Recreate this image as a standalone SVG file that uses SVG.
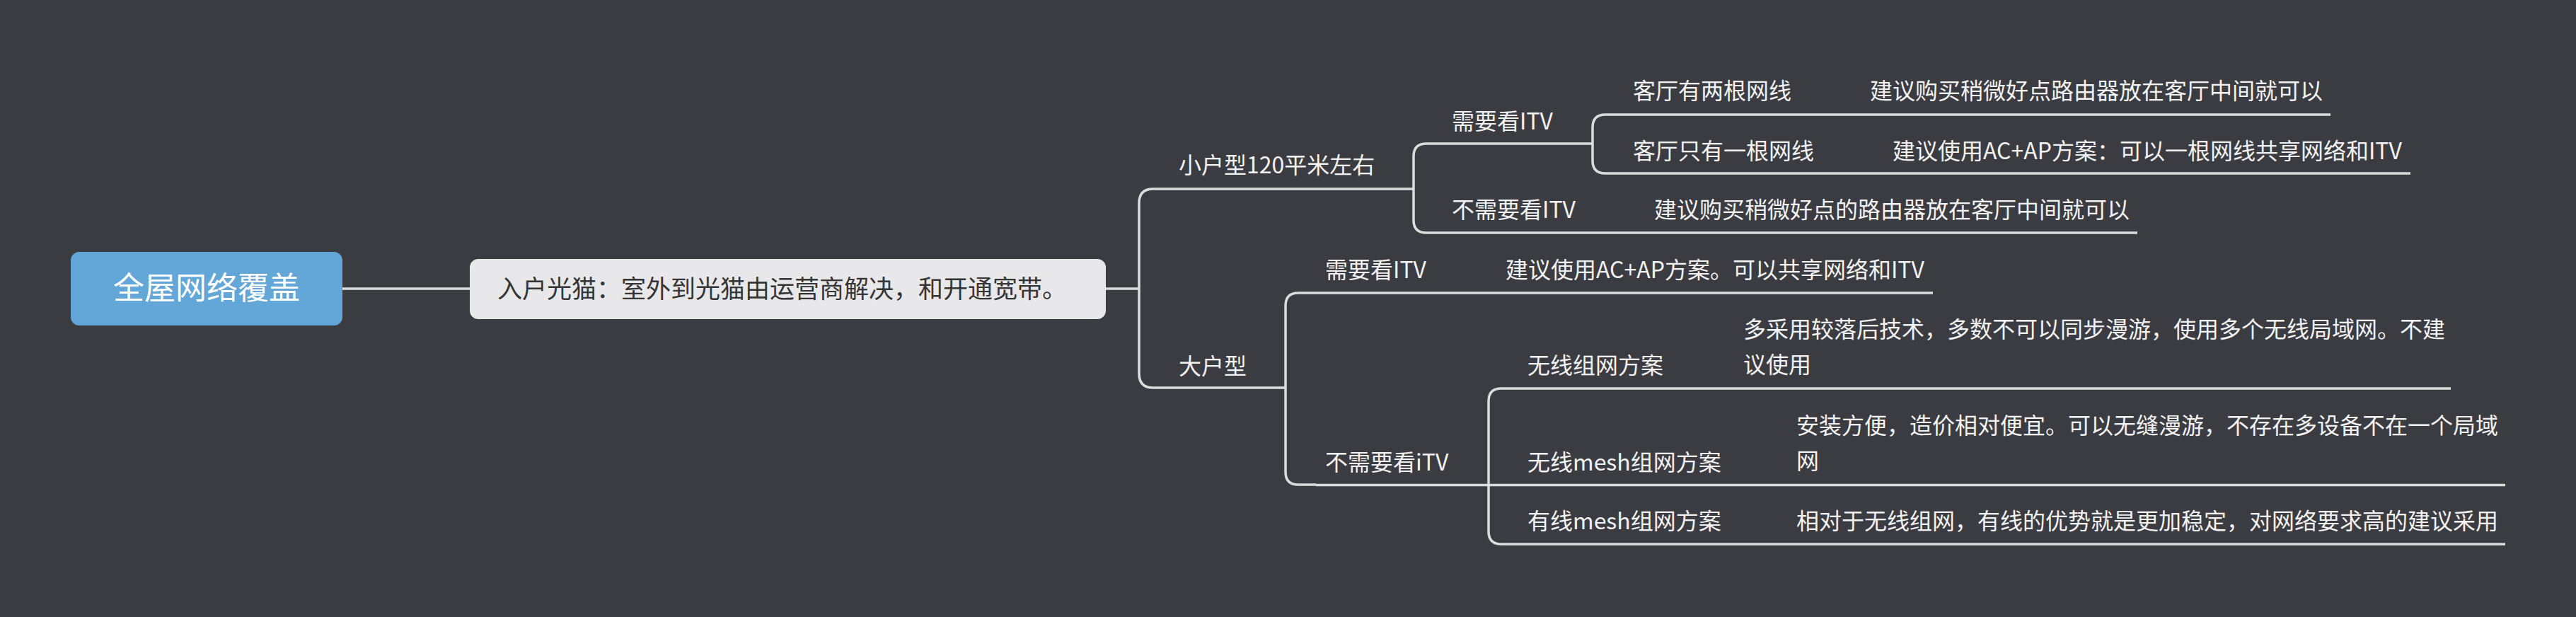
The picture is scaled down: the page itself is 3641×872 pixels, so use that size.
<svg xmlns="http://www.w3.org/2000/svg" width="3641" height="872" viewBox="0 0 3641 872">
<style>
.t{font-family:"Noto Sans CJK SC","Liberation Sans",sans-serif;font-size:32px;fill:#f2f2f2}
.ln{fill:none;stroke:#dcdcdc;stroke-width:3.5}
</style>
<rect width="3641" height="872" fill="#3b3c42"/>
<g id="connectors" class="ln">
<path d="M484 408 H664"/>
<path d="M1563 408 H1610"/>
<path d="M1650 267 H1630 Q1610 267 1610 287 V528 Q1610 548 1630 548 H1650"/>
<path d="M1960 267 H1998"/>
<path d="M2040 203 H2016 Q1998 203 1998 221 V311 Q1998 329 2016 329 H2040"/>
<path d="M2205 203 H2251"/>
<path d="M2295 162 H2269 Q2251 162 2251 180 V227 Q2251 245 2269 245 H2295"/>
<path d="M2542 162 H2634"/>
<path d="M2575 245 H2665"/>
<path d="M2220 329 H2328"/>
<path d="M1785 548 H1817"/>
<path d="M1860 414 H1835 Q1817 414 1817 432 V667 Q1817 685 1835 685 H1860"/>
<path d="M2000 414 H2118"/>
<path d="M2045 685.5 H2146"/>
<path d="M2146 549 H2122 Q2104 549 2104 567 V751 Q2104 769 2122 769 H2146"/>
<path d="M2360 549 H2454"/>
<path d="M2440 685.5 H2529"/>
<path d="M2440 769 H2529"/>
</g>
<g id="root">
<rect x="100" y="356" width="384" height="104" rx="12" fill="#63a7d9"/>
<text x="292" y="423" text-anchor="middle" style="font-family:'Noto Sans CJK SC','Liberation Sans',sans-serif;font-size:44px;fill:#ffffff">全屋网络覆盖</text>
</g>
<g id="n-modem">
<rect x="664" y="366" width="899" height="85" rx="12" fill="#e8e8ea"/>
<text x="703" y="421" style="font-family:'Noto Sans CJK SC','Liberation Sans',sans-serif;font-size:35px;fill:#353535">入户光猫：室外到光猫由运营商解决，和开通宽带。</text>
</g>
<g id="n-small"><path class="ln" d="M1650 267 H1960"/><text class="t" x="1666" y="245">小户型120平米左右</text></g>
<g id="n-small-itv"><path class="ln" d="M2040 203 H2205"/><text class="t" x="2052" y="183">需要看ITV</text></g>
<g id="n-two-cables"><path class="ln" d="M2295 162 H2542"/><text class="t" x="2308" y="140">客厅有两根网线</text></g>
<g id="n-two-cables-tip"><path class="ln" d="M2634 162 H3294"/><text class="t" x="2643" y="140">建议购买稍微好点路由器放在客厅中间就可以</text></g>
<g id="n-one-cable"><path class="ln" d="M2295 245 H2575"/><text class="t" x="2308" y="225">客厅只有一根网线</text></g>
<g id="n-one-cable-tip"><path class="ln" d="M2665 245 H3407"/><text class="t" x="2675" y="225">建议使用AC+AP方案：可以一根网线共享网络和ITV</text></g>
<g id="n-small-noitv"><path class="ln" d="M2040 329 H2220"/><text class="t" x="2052" y="308">不需要看ITV</text></g>
<g id="n-small-noitv-tip"><path class="ln" d="M2328 329 H3021"/><text class="t" x="2338" y="308">建议购买稍微好点的路由器放在客厅中间就可以</text></g>
<g id="n-large"><path class="ln" d="M1650 548 H1785"/><text class="t" x="1666" y="529">大户型</text></g>
<g id="n-large-itv"><path class="ln" d="M1860 414 H2000"/><text class="t" x="1873" y="393">需要看ITV</text></g>
<g id="n-large-itv-tip"><path class="ln" d="M2118 414 H2732"/><text class="t" x="2128" y="393">建议使用AC+AP方案。可以共享网络和ITV</text></g>
<g id="n-large-noitv"><path class="ln" d="M1860 685.5 H2045"/><text class="t" x="1873" y="665">不需要看iTV</text></g>
<g id="n-wireless"><path class="ln" d="M2146 549 H2360"/><text class="t" x="2159" y="528">无线组网方案</text></g>
<g id="n-wireless-tip"><path class="ln" d="M2454 549 H3464"/><text class="t" x="2464" y="477">多采用较落后技术，多数不可以同步漫游，使用多个无线局域网。不建</text><text class="t" x="2464" y="527">议使用</text></g>
<g id="n-wmesh"><path class="ln" d="M2146 685.5 H2440"/><text class="t" x="2159" y="665">无线mesh组网方案</text></g>
<g id="n-wmesh-tip"><path class="ln" d="M2529 685.5 H3541"/><text class="t" x="2539" y="613">安装方便，造价相对便宜。可以无缝漫游，不存在多设备不在一个局域</text><text class="t" x="2539" y="663">网</text></g>
<g id="n-cmesh"><path class="ln" d="M2146 769 H2440"/><text class="t" x="2159" y="748">有线mesh组网方案</text></g>
<g id="n-cmesh-tip"><path class="ln" d="M2529 769 H3541"/><text class="t" x="2539" y="748">相对于无线组网，有线的优势就是更加稳定，对网络要求高的建议采用</text></g>
</svg>
